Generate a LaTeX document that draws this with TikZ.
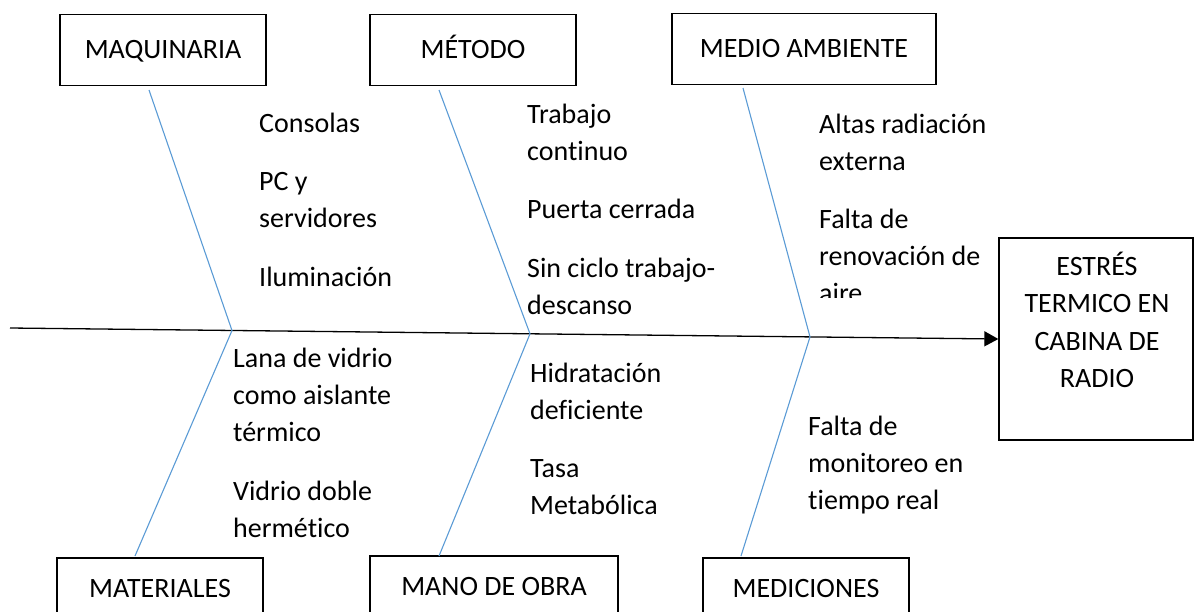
\documentclass[tikz,border=0pt]{standalone}
\usepackage{fontspec}
\setmainfont{Carlito}[Ligatures=NoCommon]
\usetikzlibrary{arrows.meta}
\definecolor{hueso}{RGB}{91,155,213}

\begin{document}
\begin{tikzpicture}[x=1pt, y=-1pt,
    caja/.style={draw, line width=1.3pt, inner sep=0pt, text height=20pt, text depth=4pt,
        font=\fontsize{28}{34}\selectfont},
    causa/.style={anchor=base west, align=left, inner sep=0pt, font=\fontsize{28}{37}\selectfont},
    espina/.style={draw=hueso, line width=1.1pt}]
    \useasboundingbox (0,0) rectangle (1194,611);

    % the category boxes
    \node[caja, minimum width=206pt, minimum height=71pt] (maq) at (163,50) {MAQUINARIA};
    \node[caja, minimum width=206pt, minimum height=71pt] (met) at (473,50) {MÉTODO};
    \node[caja, minimum width=264pt, minimum height=71pt] (med) at (804,49) {MEDIO AMBIENTE};
    \node[caja, minimum width=206pt, minimum height=62pt] (mat) at (160,589) {MATERIALES};
    \node[caja, minimum width=248pt, minimum height=62pt] (mano) at (494,587) {MANO DE OBRA};
    \node[caja, minimum width=206pt, minimum height=62pt] (medic) at (806,589) {MEDICIONES};

    % the effect (base anchor sits on the last line)
    \node[caja, minimum width=194pt, minimum height=202pt, text height=, text depth=] (efecto) at (1096,339) {};
    \node[causa, anchor=base, align=center, font=\fontsize{28}{37.5}\selectfont] (efectotxt) at (1097,387.5)
        {ESTRÉS\\TERMICO EN\\CABINA DE\\RADIO};

    % the spine
    \coordinate (cola) at (10,328);
    \draw[line width=1.3pt, -{Triangle[length=14pt,width=15pt]}] (cola) -- (efecto.west);

    % the bones (junctions on the spine)
    \coordinate (j1) at (232,330.5);
    \coordinate (j2) at (530,333.8);
    \coordinate (j3) at (810,336.9);
    \coordinate (maqpie) at (149,90);
    \coordinate (matpie) at (135,556);
    \coordinate (metpie) at (439,90);
    \coordinate (manopie) at (439,556);
    \coordinate (medpie) at (743,88);
    \coordinate (medicpie) at (741,556);
    \draw[espina] (maqpie) -- (j1) -- (matpie);
    \draw[espina] (metpie) -- (j2) -- (manopie);
    \draw[espina] (medpie) -- (j3) -- (medicpie);

    % the causes (placed on the baseline of their last line)
    \node[causa] (c1) at (259,132) {Consolas};
    \node[causa] (c2) at (259,227) {PC y\\servidores};
    \node[causa] (c3) at (259,286) {Iluminación};
    \node[causa] (c4) at (527,160) {Trabajo\\continuo};
    \node[causa] (c5) at (527,218) {Puerta cerrada};
    \node[causa] (c6) at (527,314) {Sin ciclo trabajo-\\descanso};
    \node[causa] (c7) at (819,170) {Altas radiación\\externa};
    \begin{scope}
        \clip (790,150) rectangle (995,297);
        \node[causa] (c8) at (819,302) {Falta de\\renovación de\\aire};
    \end{scope}
    \node[causa] (c9) at (233,441) {Lana de vidrio\\como aislante\\térmico};
    \node[causa] (c10) at (233,537) {Vidrio doble\\hermético};
    \node[causa] (c11) at (530,419) {Hidratación\\deficiente};
    \node[causa] (c12) at (530,514) {Tasa\\Metabólica};
    \node[causa] (c13) at (808,509) {Falta de\\monitoreo en\\tiempo real};
\end{tikzpicture}
\end{document}
